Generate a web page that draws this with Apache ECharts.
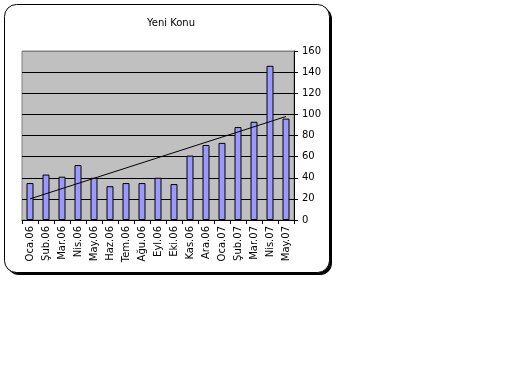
<!DOCTYPE html>
<html>
<head>
<meta charset="utf-8">
<script src="https://cdn.jsdelivr.net/npm/echarts@6/dist/echarts.min.js"></script>
<style>html,body{margin:0;padding:0;background:#fff;}#c{width:512px;height:384px;}</style>
</head>
<body>
<div id="c"></div>
<script>
var categories = ['Oca.06','Şub.06','Mar.06','Nis.06','May.06','Haz.06','Tem.06','Ağu.06','Eyl.06','Eki.06','Kas.06','Ara.06','Oca.07','Şub.07','Mar.07','Nis.07','May.07'];
var values = [35, 43, 41, 52, 40, 32, 35, 35, 40, 34, 61, 71, 73, 88, 93, 146, 96];
var trendStart = 20;
var trendEnd = 98;
var yTicks = [0, 20, 40, 60, 80, 100, 120, 140, 160];

var chart = echarts.init(document.getElementById('c'), null, {renderer: 'canvas'});
var font = 'DejaVu Sans';
var splitColors = yTicks.map(function (t, i) { return i === yTicks.length - 1 ? '#808080' : '#000000'; });
chart.setOption({
  animation: false,
  backgroundColor: '#ffffff',
  title: {
    text: 'Yeni Konu',
    left: 166, top: 13, textAlign: 'center',
    textStyle: {fontFamily: font, fontSize: 10, fontWeight: 'normal', color: '#000'}
  },
  graphic: [
    {type: 'rect', z: -20, silent: true, shape: {x: 7, y: 7, width: 325, height: 268, r: 12}, style: {fill: '#000'}},
    {type: 'rect', z: -10, silent: true, shape: {x: 4.5, y: 4.5, width: 325, height: 268, r: 12}, style: {fill: '#fff', stroke: '#000', lineWidth: 1}}
  ],
  grid: {
    left: 22, right: 218, top: 51, bottom: 164,
    show: true, backgroundColor: '#C0C0C0', borderColor: '#808080', borderWidth: 1
  },
  xAxis: {
    type: 'category', data: categories, boundaryGap: true,
    axisLine: {lineStyle: {color: '#000', width: 1}},
    axisTick: {show: true, length: 4, interval: 0, alignWithLabel: false, lineStyle: {color: '#000'}},
    axisLabel: {rotate: 90, interval: 0, margin: 6, fontFamily: font, fontSize: 10, color: '#000'},
    splitLine: {show: false}
  },
  yAxis: {
    type: 'value', position: 'right', min: yTicks[0], max: yTicks[yTicks.length - 1], interval: 20,
    axisLine: {show: true, lineStyle: {color: '#000', width: 1}},
    axisTick: {show: true, length: 4, lineStyle: {color: '#000'}},
    axisLabel: {margin: 8, fontFamily: font, fontSize: 10, color: '#000'},
    splitLine: {show: true, lineStyle: {color: splitColors, width: 1}}
  },
  series: [
    {
      type: 'bar', data: values, barWidth: 7,
      itemStyle: {color: '#9999FF', borderColor: '#000', borderWidth: 1}
    },
    {
      type: 'line', data: [[0, trendStart], [categories.length - 1, trendEnd]],
      symbol: 'none', lineStyle: {color: '#000', width: 1}, z: 5
    }
  ]
});
</script>
</body>
</html>
